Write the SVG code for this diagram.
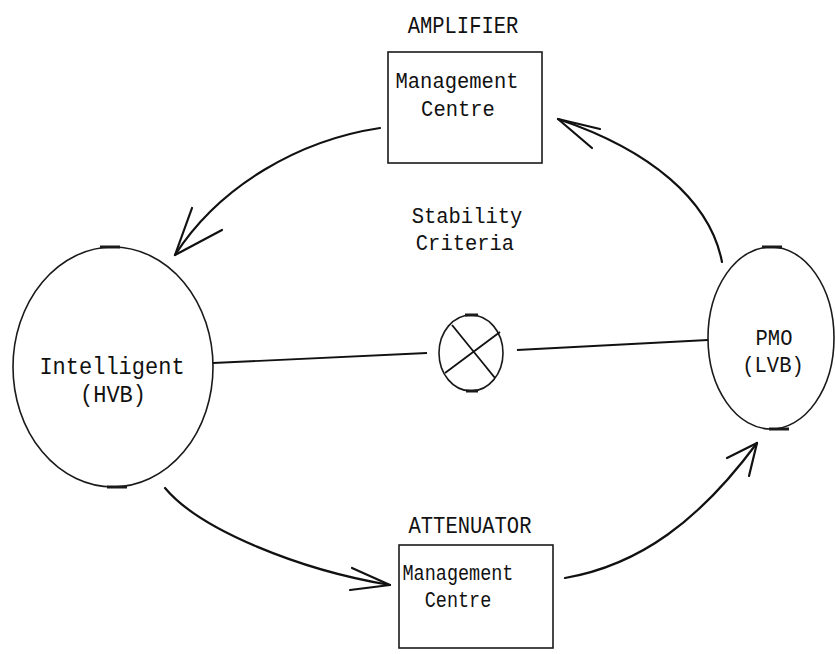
<svg xmlns="http://www.w3.org/2000/svg" width="835" height="654" viewBox="0 0 835 654">
<defs>
<style>
.node{fill:none;stroke:#1a1a1a;stroke-width:1.6}
.tick{stroke:#1a1a1a;stroke-width:3}
.conn{fill:none;stroke:#111;stroke-width:2.2;stroke-linecap:round;stroke-linejoin:round}
.line{fill:none;stroke:#111;stroke-width:1.8}
.t{font-family:"Liberation Mono","DejaVu Sans Mono",monospace;font-size:20.5px;fill:#111;text-anchor:middle}
.big{font-size:22px}
.sm{font-size:18.5px}
</style>
</defs>
<rect width="835" height="654" fill="#fff"/>
<g id="amplifier">
<text class="t" transform="translate(463,33) scale(1,1.2)">AMPLIFIER</text>
<rect class="node" x="388" y="52" width="154" height="111"/>
<text class="t" transform="translate(457,88) scale(1,1.12)">Management</text>
<text class="t" transform="translate(458,116) scale(1,1.12)">Centre</text>
</g>
<g id="attenuator">
<text class="t" transform="translate(470,533) scale(1,1.2)">ATTENUATOR</text>
<rect class="node" x="399" y="545" width="154" height="103"/>
<text class="t sm" transform="translate(458,580) scale(1,1.15)">Management</text>
<text class="t sm" transform="translate(458,607) scale(1,1.15)">Centre</text>
</g>
<g id="hub">
<ellipse class="node" cx="113" cy="367" rx="100" ry="120"/>
<line class="tick" x1="100" y1="247" x2="120" y2="247"/>
<line class="tick" x1="107" y1="487" x2="127" y2="487"/>
<text class="t big" transform="translate(112,374) scale(1,1.12)">Intelligent</text>
<text class="t big" transform="translate(113,402) scale(1,1.12)">(HVB)</text>
</g>
<g id="lvb">
<ellipse class="node" cx="771" cy="338" rx="63" ry="91"/>
<line class="tick" x1="762" y1="247" x2="782" y2="247"/>
<line class="tick" x1="769" y1="429" x2="789" y2="429"/>
<text class="t" transform="translate(774,345) scale(1,1.1)">PMO</text>
<text class="t" transform="translate(773,372) scale(1,1.1)">(LVB)</text>
</g>
<g id="stability">
<text class="t" transform="translate(467,223) scale(1,1.1)">Stability</text>
<text class="t" transform="translate(465,250) scale(1,1.1)">Criteria</text>
<ellipse class="node" cx="471" cy="353" rx="32" ry="38"/>
<line class="tick" x1="465" y1="315" x2="478" y2="315"/>
<line class="tick" x1="466" y1="391" x2="478" y2="391"/>
<line class="line" x1="452" y1="325" x2="495" y2="378"/>
<line class="line" x1="445" y1="373" x2="500" y2="332"/>
</g>
<g id="connectors">
<line class="line" x1="213" y1="363" x2="427" y2="353"/>
<line class="line" x1="517" y1="350" x2="708" y2="340"/>
<path class="conn" d="M380,128 C300,140 220,185 175,255"/>
<polyline class="conn" points="192,208 175,255 222,230"/>
<path class="conn" d="M722,262 C710,200 650,150 558,119"/>
<polyline class="conn" points="600,129 558,119 592,148"/>
<path class="conn" d="M165,488 C200,530 300,570 390,585"/>
<polyline class="conn" points="352,568 390,585 350,590"/>
<path class="conn" d="M565,578 C640,565 700,520 757,443"/>
<polyline class="conn" points="727,458 757,443 749,476"/>
</g>
</svg>
